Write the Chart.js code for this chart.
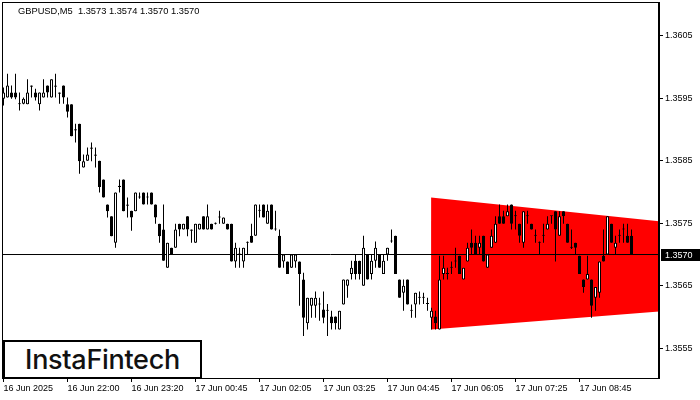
<!DOCTYPE html>
<html>
<head>
<meta charset="utf-8">
<script src="https://cdn.jsdelivr.net/npm/chart.js@4.4.0/dist/chart.umd.min.js"></script>
<style>
    html, body { margin: 0; padding: 0; background: #fff; }
    #wrap { position: relative; width: 700px; height: 400px; }
    #logo {
        position: absolute; left: 3px; top: 340px; width: 199px; height: 39px;
        box-sizing: border-box; border: 2px solid #000; background: #fff;
        display: flex; align-items: center; justify-content: center;
        font-family: Inter, sans-serif; font-weight: 500; font-size: 27px; color: #111;
        letter-spacing: -0.3px;
    }
</style>
</head>
<body>
<div id="wrap">
    <canvas id="chart" width="700" height="400"></canvas>
    <div id="logo">InstaFintech</div>
</div>
<script>
// GBPUSD M5 candles, 16 Jun 2025 late evening -> 17 Jun morning
const opens = [
    1.35949, 1.35951, 1.35959, 1.35959, 1.35941, 1.35941, 1.35940, 1.35968, 1.35959, 1.35940,
    1.35951, 1.35970, 1.35951, 1.35970, 1.35959, 1.35970, 1.35940, 1.35940, 1.35900, 1.35909,
    1.35839, 1.35850, 1.35871, 1.35860, 1.35850, 1.35820, 1.35780, 1.35761, 1.35719, 1.35810,
    1.35820, 1.35780, 1.35770, 1.35769, 1.35791, 1.35799, 1.35791, 1.35799, 1.35780, 1.35749,
    1.35740, 1.35679, 1.35711, 1.35711, 1.35749, 1.35740, 1.35761, 1.35740, 1.35719, 1.35740,
    1.35761, 1.35740, 1.35749, 1.35749, 1.35759, 1.35749, 1.35749, 1.35749, 1.35689, 1.35700,
    1.35689, 1.35719, 1.35730, 1.35730, 1.35770, 1.35780, 1.35749, 1.35780, 1.35740, 1.35730,
    1.35689, 1.35689, 1.35679, 1.35689, 1.35689, 1.35660, 1.35590, 1.35618, 1.35618, 1.35620,
    1.35612, 1.35610, 1.35601, 1.35601, 1.35580, 1.35620, 1.35650, 1.35669, 1.35690, 1.35690,
    1.35650, 1.35700, 1.35669, 1.35690, 1.35700, 1.35669, 1.35700, 1.35721, 1.35730, 1.35660,
    1.35639, 1.35660, 1.35610, 1.35620, 1.35631, 1.35631, 1.35621, 1.35599, 1.35601, 1.35580,
    1.35669, 1.35669, 1.35679, 1.35689, 1.35698, 1.35660, 1.35689, 1.35719, 1.35719, 1.35711,
    1.35730, 1.35679, 1.35711, 1.35719, 1.35761, 1.35761, 1.35761, 1.35780, 1.35761, 1.35749,
    1.35719, 1.35761, 1.35749, 1.35730, 1.35719, 1.35730, 1.35740, 1.35761, 1.35769, 1.35730,
    1.35769, 1.35749, 1.35711, 1.35719, 1.35698, 1.35660, 1.35660, 1.35660, 1.35631, 1.35639,
    1.35698, 1.35700, 1.35749, 1.35711, 1.35730, 1.35740, 1.35730, 1.35730
];
const highs = [
    1.35967, 1.35989, 1.35970, 1.35989, 1.35959, 1.35951, 1.35980, 1.35970, 1.35965, 1.35959,
    1.35980, 1.35970, 1.35980, 1.35989, 1.35959, 1.35970, 1.35951, 1.35940, 1.35909, 1.35909,
    1.35860, 1.35871, 1.35879, 1.35871, 1.35850, 1.35820, 1.35780, 1.35761, 1.35799, 1.35820,
    1.35820, 1.35791, 1.35770, 1.35799, 1.35799, 1.35799, 1.35799, 1.35799, 1.35780, 1.35749,
    1.35780, 1.35719, 1.35711, 1.35749, 1.35749, 1.35749, 1.35761, 1.35740, 1.35749, 1.35749,
    1.35761, 1.35780, 1.35749, 1.35751, 1.35770, 1.35759, 1.35749, 1.35749, 1.35719, 1.35711,
    1.35711, 1.35721, 1.35749, 1.35780, 1.35780, 1.35780, 1.35780, 1.35780, 1.35770, 1.35740,
    1.35700, 1.35689, 1.35700, 1.35700, 1.35689, 1.35671, 1.35631, 1.35631, 1.35641, 1.35631,
    1.35641, 1.35621, 1.35610, 1.35601, 1.35610, 1.35660, 1.35660, 1.35690, 1.35700, 1.35690,
    1.35730, 1.35700, 1.35700, 1.35721, 1.35700, 1.35700, 1.35711, 1.35740, 1.35730, 1.35660,
    1.35660, 1.35660, 1.35620, 1.35639, 1.35641, 1.35639, 1.35631, 1.35615, 1.35610, 1.35698,
    1.35698, 1.35679, 1.35689, 1.35711, 1.35698, 1.35679, 1.35719, 1.35740, 1.35730, 1.35730,
    1.35730, 1.35700, 1.35740, 1.35761, 1.35780, 1.35770, 1.35780, 1.35780, 1.35770, 1.35749,
    1.35769, 1.35770, 1.35749, 1.35740, 1.35721, 1.35749, 1.35761, 1.35762, 1.35769, 1.35769,
    1.35769, 1.35749, 1.35740, 1.35719, 1.35698, 1.35660, 1.35698, 1.35660, 1.35648, 1.35689,
    1.35740, 1.35761, 1.35749, 1.35730, 1.35740, 1.35749, 1.35749, 1.35740
];
const lows = [
    1.35938, 1.35951, 1.35949, 1.35948, 1.35930, 1.35940, 1.35940, 1.35951, 1.35946, 1.35930,
    1.35951, 1.35951, 1.35951, 1.35951, 1.35941, 1.35941, 1.35919, 1.35889, 1.35879, 1.35829,
    1.35839, 1.35850, 1.35849, 1.35839, 1.35799, 1.35791, 1.35759, 1.35729, 1.35711, 1.35799,
    1.35769, 1.35759, 1.35738, 1.35769, 1.35789, 1.35780, 1.35780, 1.35780, 1.35749, 1.35719,
    1.35690, 1.35679, 1.35700, 1.35711, 1.35729, 1.35740, 1.35729, 1.35719, 1.35719, 1.35740,
    1.35740, 1.35740, 1.35740, 1.35748, 1.35749, 1.35749, 1.35740, 1.35689, 1.35679, 1.35679,
    1.35679, 1.35700, 1.35719, 1.35730, 1.35759, 1.35759, 1.35749, 1.35740, 1.35738, 1.35679,
    1.35679, 1.35669, 1.35679, 1.35679, 1.35618, 1.35570, 1.35580, 1.35599, 1.35599, 1.35594,
    1.35590, 1.35570, 1.35580, 1.35580, 1.35580, 1.35620, 1.35631, 1.35660, 1.35660, 1.35660,
    1.35650, 1.35660, 1.35660, 1.35679, 1.35679, 1.35669, 1.35690, 1.35719, 1.35669, 1.35631,
    1.35610, 1.35620, 1.35599, 1.35599, 1.35620, 1.35621, 1.35610, 1.35580, 1.35580, 1.35580,
    1.35660, 1.35660, 1.35669, 1.35679, 1.35669, 1.35660, 1.35689, 1.35700, 1.35700, 1.35700,
    1.35689, 1.35679, 1.35711, 1.35719, 1.35749, 1.35749, 1.35761, 1.35740, 1.35740, 1.35719,
    1.35711, 1.35749, 1.35740, 1.35719, 1.35700, 1.35719, 1.35740, 1.35749, 1.35689, 1.35730,
    1.35749, 1.35719, 1.35709, 1.35700, 1.35669, 1.35639, 1.35660, 1.35599, 1.35610, 1.35631,
    1.35689, 1.35700, 1.35719, 1.35700, 1.35719, 1.35719, 1.35719, 1.35700
];
const closes = [
    1.35959, 1.35970, 1.35951, 1.35951, 1.35940, 1.35949, 1.35959, 1.35970, 1.35951, 1.35959,
    1.35959, 1.35959, 1.35980, 1.35968, 1.35957, 1.35951, 1.35928, 1.35889, 1.35898, 1.35849,
    1.35849, 1.35860, 1.35869, 1.35858, 1.35808, 1.35791, 1.35769, 1.35729, 1.35799, 1.35808,
    1.35769, 1.35778, 1.35759, 1.35799, 1.35791, 1.35780, 1.35791, 1.35780, 1.35759, 1.35729,
    1.35690, 1.35719, 1.35700, 1.35740, 1.35740, 1.35749, 1.35740, 1.35738, 1.35749, 1.35749,
    1.35740, 1.35761, 1.35740, 1.35749, 1.35759, 1.35759, 1.35740, 1.35689, 1.35711, 1.35700,
    1.35711, 1.35719, 1.35719, 1.35780, 1.35770, 1.35759, 1.35770, 1.35740, 1.35740, 1.35679,
    1.35700, 1.35669, 1.35700, 1.35700, 1.35669, 1.35599, 1.35631, 1.35631, 1.35631, 1.35620,
    1.35599, 1.35610, 1.35590, 1.35590, 1.35610, 1.35660, 1.35660, 1.35679, 1.35669, 1.35669,
    1.35711, 1.35660, 1.35690, 1.35711, 1.35679, 1.35690, 1.35711, 1.35721, 1.35669, 1.35631,
    1.35650, 1.35620, 1.35610, 1.35639, 1.35631, 1.35631, 1.35621, 1.35610, 1.35590, 1.35660,
    1.35679, 1.35669, 1.35679, 1.35689, 1.35669, 1.35679, 1.35711, 1.35711, 1.35700, 1.35719,
    1.35689, 1.35700, 1.35730, 1.35749, 1.35749, 1.35749, 1.35769, 1.35749, 1.35761, 1.35730,
    1.35769, 1.35761, 1.35740, 1.35730, 1.35719, 1.35730, 1.35749, 1.35761, 1.35740, 1.35761,
    1.35761, 1.35719, 1.35711, 1.35711, 1.35669, 1.35648, 1.35669, 1.35618, 1.35648, 1.35689,
    1.35689, 1.35761, 1.35719, 1.35719, 1.35730, 1.35740, 1.35719, 1.35700
];

// time axis: one label every 16 bars
const tickIndex = [0, 16, 32, 48, 64, 80, 96, 112, 128, 144];
const tickLabels = ['16 Jun 2025', '16 Jun 22:00', '16 Jun 23:20', '17 Jun 00:45', '17 Jun 02:05',
    '17 Jun 03:25', '17 Jun 04:45', '17 Jun 06:05', '17 Jun 07:25', '17 Jun 08:45'];
const priceTicks = [1.3555, 1.3565, 1.3575, 1.3585, 1.3595, 1.3605];

// symmetrical triangle pattern (bar index, price)
const triTop = [[106.9, 1.35791], [163.875, 1.35753]];
const triBottom = [[106.9, 1.35580], [163.875, 1.35609]];

const symbol = 'GBPUSD,M5';
const xMin = -0.375, xMax = 163.875;
const yMin = 1.355027, yMax = 1.361035;
const lastPrice = closes[closes.length - 1];
const FONT = 'Liberation Sans, Arial, sans-serif';

const bodies = opens.map((o, i) => ({ x: i, y: [o, closes[i]] }));
const wicks = opens.map((o, i) => ({ x: i, y: [lows[i], highs[i]] }));

// frame, title and last price tag
const framePlugin = {
    id: 'frame',
    afterDraw(chart) {
        const { ctx, chartArea: a } = chart;
        const y = chart.scales.y;
        ctx.save();
        ctx.strokeStyle = '#000';
        ctx.lineWidth = 1;
        ctx.strokeRect(a.left + 0.5, a.top + 0.5, a.right - a.left - 1, a.bottom - a.top);

        const last = opens.length - 1;
        const title = symbol + '  ' + [opens[last], highs[last], lows[last], closes[last]]
            .map(v => v.toFixed(4)).join(' ');
        ctx.fillStyle = '#000';
        ctx.font = '9.3px ' + FONT;
        ctx.textBaseline = 'alphabetic';
        ctx.fillText(title, 18, 14);

        const py = Math.round(y.getPixelForValue(lastPrice));
        ctx.fillRect(a.right + 2, py - 6, 39, 12);
        ctx.fillStyle = '#fff';
        ctx.font = '9px ' + FONT;
        ctx.textBaseline = 'middle';
        ctx.fillText(lastPrice.toFixed(4), a.right + 6, py + 1);
        ctx.restore();
    }
};

const ctx = document.getElementById('chart').getContext('2d');
new Chart(ctx, {
    type: 'bar',
    data: {
        datasets: [{
            label: 'body',
            data: bodies,
            order: 0,
            grouped: false,
            barThickness: 3,
            minBarLength: 1,
            borderWidth: 1,
            borderSkipped: false,
            inflateAmount: 0,
            borderColor: '#000',
            backgroundColor: c => closes[c.dataIndex] > opens[c.dataIndex] ? '#fff' : '#000'
        }, {
            label: 'wick',
            data: wicks,
            order: 1,
            grouped: false,
            barThickness: 1,
            minBarLength: 1,
            borderWidth: 0,
            inflateAmount: 0,
            backgroundColor: '#000'
        }, {
            type: 'line',
            label: 'price',
            data: [{ x: xMin, y: lastPrice }, { x: xMax, y: lastPrice }],
            order: 2,
            borderColor: '#000',
            borderWidth: 1,
            pointRadius: 0
        }, {
            type: 'line',
            label: 'triangle top',
            data: triTop.map(p => ({ x: p[0], y: p[1] })),
            order: 3,
            borderColor: '#ff0000',
            borderWidth: 0,
            pointRadius: 0
        }, {
            type: 'line',
            label: 'triangle bottom',
            data: triBottom.map(p => ({ x: p[0], y: p[1] })),
            order: 4,
            borderColor: '#ff0000',
            borderWidth: 0,
            pointRadius: 0,
            fill: '-1',
            backgroundColor: '#ff0000'
        }]
    },
    options: {
        responsive: false,
        animation: false,
        devicePixelRatio: 1,
        layout: { padding: { left: 2, top: 2, right: 0, bottom: 0 } },
        plugins: {
            legend: { display: false },
            tooltip: { enabled: false }
        },
        scales: {
            x: {
                type: 'linear',
                min: xMin,
                max: xMax,
                bounds: 'data',
                offset: false,
                afterBuildTicks: s => { s.ticks = tickIndex.map(v => ({ value: v })); },
                afterFit: s => { s.height = 22; s.paddingLeft = 0; s.paddingRight = 0; },
                grid: { drawOnChartArea: false, tickLength: 4, color: '#000', offset: false },
                border: { color: '#000' },
                ticks: {
                    autoSkip: false,
                    maxRotation: 0,
                    align: 'start',
                    padding: 1,
                    color: '#000',
                    font: { family: FONT, size: 9 },
                    callback: (v, i) => tickLabels[i]
                }
            },
            y: {
                type: 'linear',
                position: 'right',
                min: yMin,
                max: yMax,
                bounds: 'data',
                afterBuildTicks: s => { s.ticks = priceTicks.map(v => ({ value: v })); },
                afterFit: s => { s.width = 41; s.paddingTop = 0; s.paddingBottom = 0; },
                grid: { drawOnChartArea: false, tickLength: 4, color: '#000' },
                border: { color: '#000' },
                ticks: {
                    padding: 2,
                    color: '#000',
                    font: { family: FONT, size: 9 },
                    callback: v => v.toFixed(4)
                }
            }
        }
    },
    plugins: [framePlugin]
});
</script>
</body>
</html>
